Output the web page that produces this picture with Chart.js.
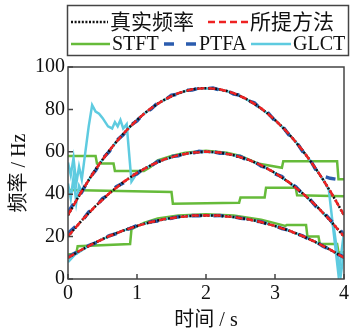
<!DOCTYPE html>
<html>
<head>
<meta charset="utf-8">
<script src="https://cdn.jsdelivr.net/npm/chart.js@4.4.1/dist/chart.umd.min.js"></script>
<style>
  html, body { margin: 0; padding: 0; background: #fff; }
  canvas { display: block; }
  .probe { position: absolute; left: -999px; top: 0; font: 20px "Liberation Serif", "Noto Sans CJK SC"; }
</style>
</head>
<body>
<canvas id="chart" width="352" height="333"></canvas>
<span class="probe">STFT 100 频率时间</span>
<script>
// ====== DATA ======
const names = ['真实频率', '所提方法', 'STFT', 'PTFA', 'GLCT'];
const xTicks = [0, 1, 2, 3, 4];
const yTicks = [0, 20, 40, 60, 80, 100];

// time grid (s) for the smooth curves
const tGrid = [0,0.1,0.2,0.3,0.4,0.5,0.6,0.7,0.8,0.9,1,1.1,1.2,1.3,1.4,1.5,1.6,1.7,1.8,1.9,2,
  2.1,2.2,2.3,2.4,2.5,2.6,2.7,2.8,2.9,3,3.1,3.2,3.3,3.4,3.5,3.6,3.7,3.8,3.9,4];

// true frequency (Hz), three components
const true1 = [10,12,13.8,15.6,17.2,18.8,20.2,21.6,22.8,24,25,26,26.8,27.6,28.2,28.8,29.2,29.6,29.8,30,30,
  30,29.8,29.6,29.2,28.8,28.2,27.6,26.8,26,25,24,22.8,21.6,20.2,18.8,17.2,15.6,13.8,12,10];
const true2 = [20,23.9,27.6,31.1,34.4,37.5,40.4,43.1,45.6,47.9,50,51.9,53.6,55.1,56.4,57.5,58.4,59.1,59.6,59.9,60,
  59.9,59.6,59.1,58.4,57.5,56.4,55.1,53.6,51.9,50,47.9,45.6,43.1,40.4,37.5,34.4,31.1,27.6,23.9,20];
const true3 = [30,35.9,41.4,46.7,51.6,56.3,60.6,64.7,68.4,71.9,75,77.9,80.4,82.7,84.6,86.3,87.6,88.7,89.4,89.9,90,
  89.9,89.4,88.7,87.6,86.3,84.6,82.7,80.4,77.9,75,71.9,68.4,64.7,60.6,56.3,51.6,46.7,41.4,35.9,30];

// proposed method (overlaps the true curves)
const prop1 = [10.1,12,13.9,15.5,17.3,18.7,20.3,21.5,22.9,23.9,25.1,25.9,26.9,27.5,28.3,28.7,29.3,29.5,29.9,29.9,30.1,
  29.9,29.9,29.5,29.3,28.7,28.3,27.5,26.9,25.9,25.1,23.9,22.9,21.5,20.3,18.7,17.3,15.5,13.9,11.9,10.1];
const prop2 = [20.2,23.8,27.7,31,34.5,37.4,40.5,43,45.7,47.8,50.1,51.8,53.7,55,56.5,57.4,58.5,59,59.7,59.8,60.1,
  59.8,59.7,59,58.5,57.4,56.5,55,53.7,51.8,50.1,47.8,45.7,43,40.5,37.4,34.5,31,27.7,23.8,20.2];
const prop3 = [30.2,35.8,41.5,46.6,51.7,56.2,60.7,64.6,68.5,71.8,75.1,77.8,80.5,82.6,84.7,86.2,87.7,88.6,89.5,89.8,90.1,
  89.8,89.5,88.6,87.7,86.2,84.7,82.6,80.5,77.8,75.1,71.8,68.5,64.6,60.7,56.2,51.7,46.6,41.5,35.8,30.2];

// PTFA
const ptfa1 = [10.3,12.2,13.6,15.8,17,18.9,20.4,21.4,23,23.8,25.2,25.8,27,27.4,28.4,28.6,29.4,29.5,29.9,29.8,30.2,
  29.8,30,29.4,29.4,28.6,28.4,27.4,27,25.8,25.2,23.8,23,21.4,20.4,18.6,17.4,15.4,14,11.8,10.4];
const ptfa2 = [21.5,24.5,27.2,31.6,34,37.9,40,43.6,45.2,48.4,49.6,52.3,53.2,55.5,56.1,57.8,58.1,59.4,59.3,60.2,59.8,
  60.1,59.3,59.4,58.1,57.8,56,55.5,53.2,52.3,49.6,48.3,45.2,43.6,40,37.9,34,31.6,27.9,24.5,21];
const ptfa3 = [31.5,36.4,41,47.2,51.2,56.8,60.2,65.2,68,72.4,74.6,78.3,80,83.1,84.2,86.7,87.2,89,89.1,90.2,89.8,
  90.1,89.1,89,87.2,86.7,84.2,83.1,80,78.3,74.6,72.4,68,65.2,60.2,56.8,51,48.5,47.5,47,46];

// STFT (step-like ridges)
const stftT1 = [0,0.4,0.42,0.66,0.68,1.1,1.2,1.3,1.5,1.7,2,2.3,2.5,2.75,3.1,3.12,3.9,3.92,4];
const stftV1 = [58,58,54.5,54.5,51,51,53,56,58,59.5,60.5,59.5,58,54.5,52.5,55.5,55.5,47,47];
const stftT2 = [0,1.5,1.52,2.48,2.5,2.85,2.87,3.3,3.32,4];
const stftV2 = [42,41,35.5,36,38.5,38.5,43,43,39.5,39];
const stftT3 = [0,0.12,0.14,0.9,0.92,1.1,1.3,1.6,2,2.4,2.8,3.15,3.17,3.45,3.47,3.63,3.65,3.9,3.92,4];
const stftV3 = [11.5,12,15.5,16.5,23.5,26.5,28.5,30,30.5,30,28,25,25.5,25.5,20,20,16.5,16.5,12.5,12.5];

// GLCT
const glctT1 = [0,0.04,0.08,0.12,0.16,0.2,0.24,0.3,0.35,0.4,0.45,0.5,0.58,0.64,0.68,0.72,0.76,0.8,0.85,0.92,
  1,1.2,1.4,1.6,1.8,2,2.2,2.4,2.6,2.8,3,3.2,3.4,3.6,3.8,3.85,3.95,4];
const glctV1 = [55,49,57,45,53,47,57,72,82,79,78,76,72,71,74,72,75,71,73,46,
  50,53.6,56.4,58.4,59.6,60,59.6,58.4,56.4,53.6,50,45.6,40.4,34.4,27.6,25,1,13];
const glctT2 = [0,0.04,0.08,0.12,0.16,0.2,0.3,0.5,0.7,0.9,1.1,1.3,1.5,1.7,1.9,2.1,2.3,2.5,2.7,2.9,3.1,3.3,3.5,3.7,3.78,3.92,4];
const glctV2 = [45,38,48,36,44,41.4,46.7,56.3,64.7,71.9,77.9,82.7,86.3,88.7,89.9,89.9,88.7,86.3,82.7,77.9,71.9,64.7,56.3,46.7,42,2,22];
const glctT3 = [0,0.1,0.3,0.5,0.7,0.9,1.1,1.3,1.5,1.7,1.9,2.1,2.3,2.5,2.7,2.9,3.1,3.3,3.5,3.7,3.9,4];
const glctV3 = [8,11.5,15.6,18.8,21.6,24,26,27.6,28.8,29.6,30,30,29.6,28.8,27.6,26,24,21.6,18.8,15.6,12,9];
// ==================

const C_TRUE = '#111111';
const C_PROP = '#ee2222';
const C_STFT = '#66bb3a';
const C_PTFA = '#2b5cae';
const C_GLCT = '#5ecbe0';
const FRAME  = '#444444';
const serif = '"Liberation Serif", "Times New Roman", "Noto Sans CJK SC", serif';

const zip = (ts, vs) => ts.map((t, i) => ({ x: t, y: vs[i] }));

function line(label, pts, color, width, dash, order, legend) {
  return {
    label, data: pts, borderColor: color, borderWidth: width, borderDash: dash,
    pointRadius: 0, tension: 0, fill: false, order, showInLegend: legend
  };
}

const datasets = [
  line(names[0], zip(tGrid, true1), C_TRUE, 2.5, [2, 1.6], 1, true),
  line(names[0], zip(tGrid, true2), C_TRUE, 2.5, [2, 1.6], 1, false),
  line(names[0], zip(tGrid, true3), C_TRUE, 2.5, [2, 1.6], 1, false),
  line(names[1], zip(tGrid, prop1), C_PROP, 2.5, [7, 4], 0, true),
  line(names[1], zip(tGrid, prop2), C_PROP, 2.5, [7, 4], 0, false),
  line(names[1], zip(tGrid, prop3), C_PROP, 2.5, [7, 4], 0, false),
  line(names[2], zip(stftT1, stftV1), C_STFT, 2.5, [], 4, true),
  line(names[2], zip(stftT2, stftV2), C_STFT, 2.5, [], 4, false),
  line(names[2], zip(stftT3, stftV3), C_STFT, 2.5, [], 4, false),
  line(names[3], zip(tGrid, ptfa1), C_PTFA, 3.5, [10, 12], 2, true),
  line(names[3], zip(tGrid, ptfa2), C_PTFA, 3.5, [10, 12], 2, false),
  line(names[3], zip(tGrid, ptfa3), C_PTFA, 3.5, [10, 12], 2, false),
  line(names[4], zip(glctT1, glctV1), C_GLCT, 2.5, [], 3, true),
  line(names[4], zip(glctT2, glctV2), C_GLCT, 2.5, [], 3, false),
  line(names[4], zip(glctT3, glctV3), C_GLCT, 2.5, [], 3, false),
];

// legend sample positions (two rows, boxed like the original)
const legendSpots = [
  { name: names[0], x0: 71,  x1: 108, y: 22 },
  { name: names[1], x0: 208, x1: 248, y: 22 },
  { name: names[2], x0: 71,  x1: 110, y: 44 },
  { name: names[3], x0: 164, x1: 197, y: 44 },
  { name: names[4], x0: 251, x1: 291, y: 44 },
];

const boxLegend = {
  id: 'boxLegend',
  afterDraw(chart) {
    const c = chart.ctx;
    c.save();
    c.lineWidth = 1.5;
    c.strokeStyle = FRAME;
    c.strokeRect(67.5, 5.5, 281, 50);
    legendSpots.forEach(s => {
      const ds = chart.data.datasets.find(d => d.label === s.name && d.showInLegend);
      c.beginPath();
      c.setLineDash(ds.borderDash);
      c.lineWidth = ds.borderWidth;
      c.strokeStyle = ds.borderColor;
      c.moveTo(s.x0, s.y);
      c.lineTo(s.x1, s.y);
      c.stroke();
      c.setLineDash([]);
      c.fillStyle = '#111';
      c.textBaseline = 'middle';
      c.textAlign = 'left';
      const cjk = /[\u4e00-\u9fff]/.test(s.name);
      c.font = (cjk ? '21px ' : '20px ') + serif;
      c.fillText(s.name, s.x1 + 2, s.y + 1);
    });
    c.restore();
  }
};

// frame + inward ticks, MATLAB style
const frameTicks = {
  id: 'frameTicks',
  afterDatasetsDraw(chart) {
    const { ctx: c, chartArea: a, scales } = chart;
    c.save();
    c.strokeStyle = FRAME;
    c.lineWidth = 1.5;
    c.strokeRect(a.left, a.top, a.right - a.left, a.bottom - a.top);
    c.beginPath();
    yTicks.forEach(v => {
      const y = scales.y.getPixelForValue(v);
      c.moveTo(a.left, y); c.lineTo(a.left + 5, y);
    });
    xTicks.forEach(v => {
      const x = scales.x.getPixelForValue(v);
      c.moveTo(x, a.bottom); c.lineTo(x, a.bottom - 5);
    });
    c.stroke();
    c.restore();
  }
};

const tickFont = { family: serif, size: 20 };

function draw() {
  new Chart(document.getElementById('chart'), {
    type: 'line',
    data: { datasets },
    options: {
      responsive: false,
      devicePixelRatio: 1,
      animation: false,
      layout: { padding: { top: 67, right: 5, left: 0, bottom: 0 } },
      plugins: { legend: { display: false }, tooltip: { enabled: false } },
      scales: {
        x: {
          type: 'linear', min: 0, max: 4,
          afterFit: s => { s.height = 54; },
          afterBuildTicks: s => { s.ticks = xTicks.map(v => ({ value: v })); },
          ticks: { font: tickFont, color: '#111', padding: 3, maxRotation: 0 },
          grid: { display: false, drawTicks: false },
          border: { display: false },
          title: { display: true, text: '时间 / s', font: tickFont, color: '#111', padding: { top: 0, bottom: 0 } }
        },
        y: {
          type: 'linear', min: 0, max: 100,
          afterFit: s => { s.width = 68; },
          afterBuildTicks: s => { s.ticks = yTicks.map(v => ({ value: v })); },
          ticks: { font: tickFont, color: '#111', padding: 3 },
          grid: { display: false, drawTicks: false },
          border: { display: false },
          title: { display: true, text: '频率 / Hz', font: tickFont, color: '#111', padding: { top: 8, bottom: 0 } }
        }
      }
    },
    plugins: [frameTicks, boxLegend]
  });
}

Promise.all([
  document.fonts.load('20px "Liberation Serif"', 'STFT 100'),
  document.fonts.load('20px "Noto Sans CJK SC"', '频率时间')
]).catch(() => {}).then(draw);
</script>
</body>
</html>
